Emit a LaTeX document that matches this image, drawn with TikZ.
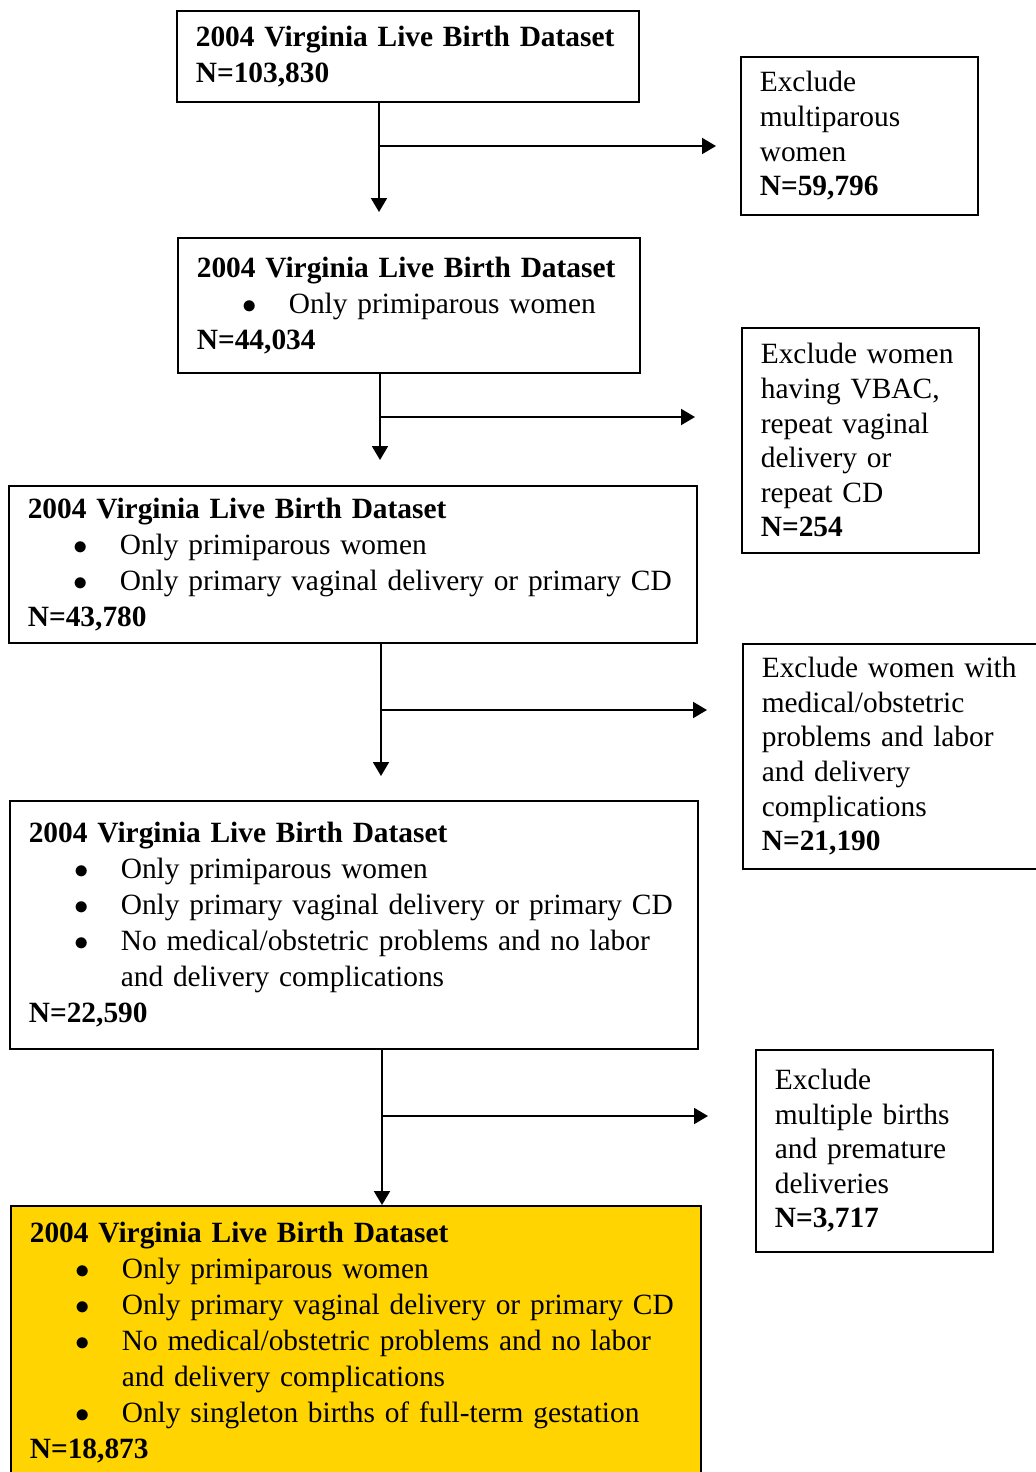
\documentclass[tikz,border=0pt]{standalone}
\usepackage{fontspec}
\setmainfont{Liberation Serif}
\usepackage{tikz}
\usetikzlibrary{calc, arrows.meta}
\definecolor{keep}{RGB}{255,212,0}
\tikzstyle{blk}=[draw, line width=0.8pt, anchor=north west, align=left, inner xsep=9.5pt, inner ysep=0pt, font=\fontsize{14.7}{18}\selectfont]
\tikzstyle{excl}=[blk, font=\fontsize{14.7}{17.3}\selectfont]
\tikzstyle{final}=[blk, fill=keep]
\newcommand{\itm}[1]{\hspace*{23pt}\makebox[23pt][l]{$\bullet$}#1}
\newcommand{\cont}[1]{\hspace*{46pt}#1}

\begin{document}
\begin{tikzpicture}[x=0.5pt,y=-0.5pt,>={Triangle[length=7pt,width=8pt]},line width=1pt]
      \useasboundingbox (0,0) rectangle (1036,1472);
      \clip (0,0) rectangle (1036,1472);
      % datasets
      \node [blk, text width=212pt, minimum height=45.5pt] (ds1) at (176,10) {\textbf{2004 Virginia Live Birth Dataset}\\ \textbf{N=103,830}};
      \node [blk, text width=212pt, minimum height=67.5pt] (ds2) at (177,237) {\textbf{2004 Virginia Live Birth Dataset}\\ \itm{Only primiparous women}\\ \textbf{N=44,034}};
      \node [blk, text width=325pt, minimum height=78.5pt] (ds3) at (8,485) {\textbf{2004 Virginia Live Birth Dataset}\\ \itm{Only primiparous women}\\ \itm{Only primary vaginal delivery or primary CD}\\ \textbf{N=43,780}};
      \node [blk, text width=325pt, minimum height=124pt] (ds4) at (9,800) {\textbf{2004 Virginia Live Birth Dataset}\\ \itm{Only primiparous women}\\ \itm{Only primary vaginal delivery or primary CD}\\ \itm{No medical/obstetric problems and no labor}\\ \cont{and delivery complications}\\ \textbf{N=22,590}};
      \node [final, text width=326pt, minimum height=137pt] (ds5) at (10,1205) {\textbf{2004 Virginia Live Birth Dataset}\\ \itm{Only primiparous women}\\ \itm{Only primary vaginal delivery or primary CD}\\ \itm{No medical/obstetric problems and no labor}\\ \cont{and delivery complications}\\ \itm{Only singleton births of full-term gestation}\\ \textbf{N=18,873}};
      % exclusions
      \node [excl, text width=99.5pt, minimum height=79pt] (ex1) at (740,56) {Exclude\\ multiparous\\ women\\ \textbf{N=59,796}};
      \node [excl, text width=99.5pt, minimum height=112.5pt] (ex2) at (741,327) {Exclude women\\ having VBAC,\\ repeat vaginal\\ delivery or\\ repeat CD\\ \textbf{N=254}};
      \node [excl, text width=131pt, minimum height=112.5pt] (ex3) at (742,643) {Exclude women with\\ medical/obstetric\\ problems and labor\\ and delivery\\ complications\\ \textbf{N=21,190}};
      \node [excl, text width=99.5pt, minimum height=101pt] (ex4) at (755,1049) {Exclude\\ multiple births\\ and premature\\ deliveries\\ \textbf{N=3,717}};
      % connectors
      \coordinate (j1) at (379,146);
      \coordinate (j2) at (380,417);
      \coordinate (j3) at (381,710);
      \coordinate (j4) at (382,1116);
      \draw[->, shorten >=12.5pt] (ds1.south -| j1) -- (ds2.north -| j1);
      \draw[->, shorten >=12.5pt] (ds2.south -| j2) -- (ds3.north -| j2);
      \draw[->, shorten >=12pt] (ds3.south -| j3) -- (ds4.north -| j3);
      \draw[->] (ds4.south -| j4) -- (ds5.north -| j4);
      \draw[->, shorten >=12pt] (j1) -- (j1 -| ex1.west);
      \draw[->, shorten >=23pt] (j2) -- (j2 -| ex2.west);
      \draw[->, shorten >=17.5pt] (j3) -- (j3 -| ex3.west);
      \draw[->, shorten >=23.5pt] (j4) -- (j4 -| ex4.west);
\end{tikzpicture}
\end{document}
